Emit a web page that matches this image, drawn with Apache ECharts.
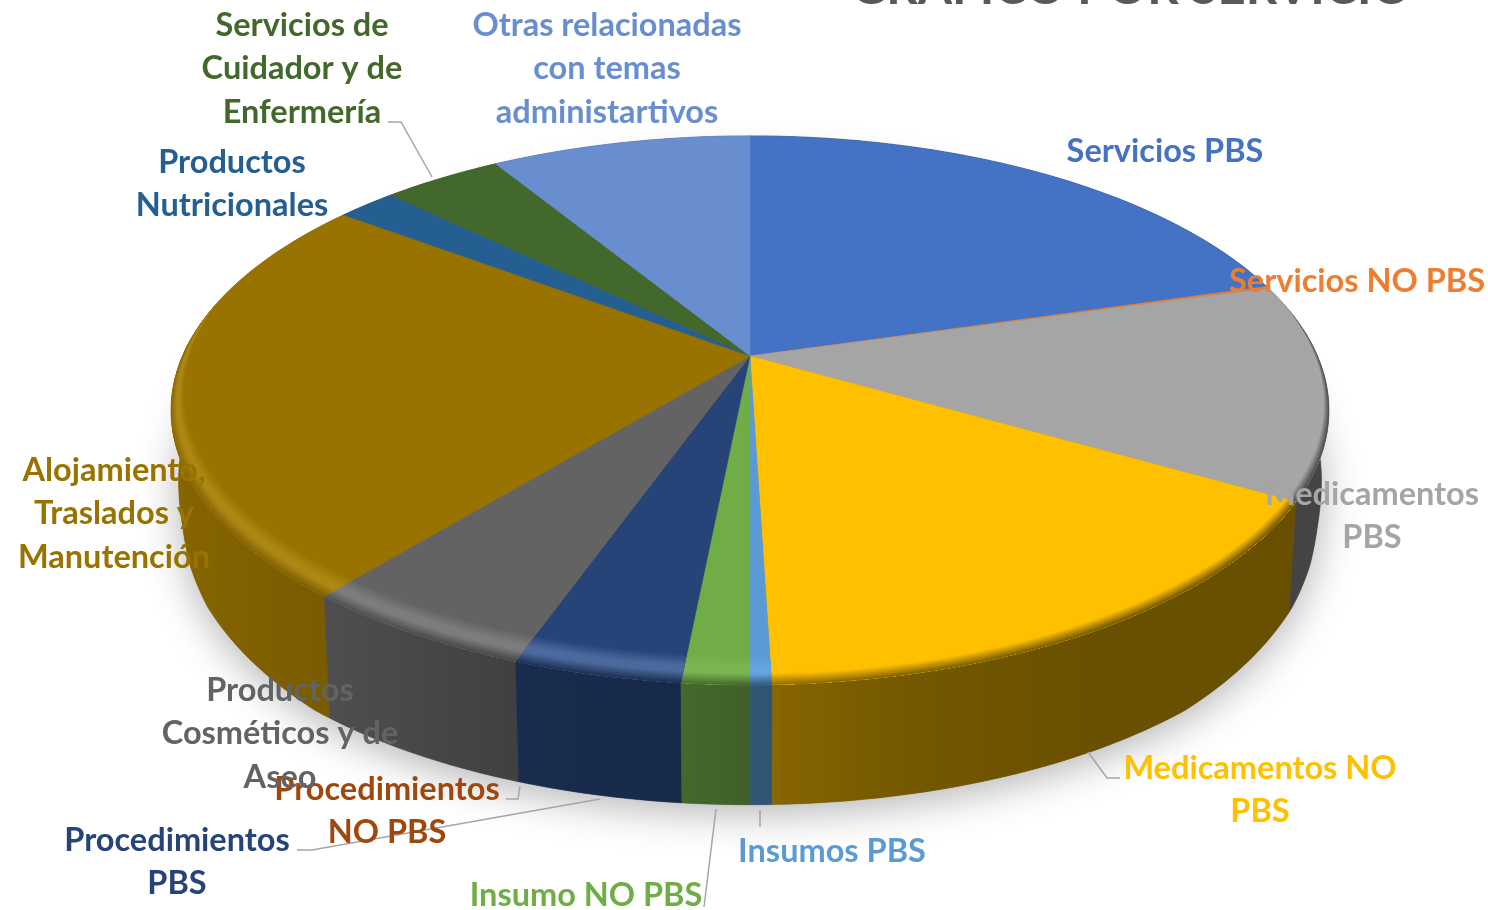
<!DOCTYPE html>
<html>
<head>
<meta charset="utf-8">
<title>Gráfico por servicio</title>
<script src="https://cdn.jsdelivr.net/npm/echarts@6/dist/echarts.min.js"></script>
<style>
  html, body { margin: 0; padding: 0; background: #fff; overflow: hidden; }
  #chart { width: 1488px; height: 910px; }
</style>
</head>
<body>
<div id="chart"></div>
<script>
const categories = [
  'Servicios PBS', 'Servicios NO PBS', 'Medicamentos PBS', 'Medicamentos NO PBS',
  'Insumos PBS', 'Insumo NO PBS', 'Procedimientos PBS', 'Procedimientos NO PBS',
  'Productos Cosméticos y de Aseo', 'Alojamiento, Traslados y Manutención',
  'Productos Nutricionales', 'Servicios de Cuidador y de Enfermería',
  'Otras relacionadas con temas administartivos'
]
const values = [20.5, 0.12, 12.68, 16.2, 0.5, 1.55, 3.9, 0.005, 5.5, 24.25, 2, 4, 8.78]
const colors = [
  '#4472C4', '#ED7D31', '#A5A5A5', '#FFC000', '#5B9BD5', '#70AD47', '#264478',
  '#9E480E', '#636363', '#997300', '#255E91', '#43682B', '#698ED0'
]
const labelTexts = [
  'Servicios PBS', 'Servicios NO PBS', 'Medicamentos\nPBS', 'Medicamentos NO\nPBS',
  'Insumos PBS', 'Insumo NO PBS', 'Procedimientos\nPBS', 'Procedimientos\nNO PBS',
  'Productos\nCosméticos y de\nAseo', 'Alojamiento,\nTraslados y\nManutención',
  'Productos\nNutricionales', 'Servicios de\nCuidador y de\nEnfermería',
  'Otras relacionadas\ncon temas\nadministartivos'
]
const labelX = [1165, 1357, 1372, 1260, 832, 586, 177, 387, 280, 114, 232, 302, 607]
const labelY = [152, 282, 516, 790, 852, 896, 862, 811, 734, 514, 184, 69, 69]
const leaderLines = [
  [[388, 122], [401, 122], [432, 177]],
  [[1088, 752], [1107, 778], [1120, 778]],
  [[506, 799], [518, 799], [520, 786]],
  [[297, 850], [312, 850], [600, 799]],
  [[716, 809], [704, 907]],
  [[760, 810], [760, 827]]
]

// perspective of the disc, fitted to the picture
const CX = 750, CY = 356, A = 567.5, B = 263.7, K = 0.198
const wallDrop = [[-1, 20], [0.2, 70], [0.3, 82], [0.38, 100], [0.48, 110], [0.75, 122], [1, 120]]
const total = values.reduce((a, b) => a + b, 0)

let acc = 0
const sliceData = values.map((v, i) => {
  const start = acc / total * 360
  acc += v
  return { name: categories[i], value: [start, acc / total * 360, i] }
})

function dropAt(v) {
  for (let i = 1; i < wallDrop.length; i++) {
    if (v <= wallDrop[i][0]) {
      const [v0, d0] = wallDrop[i - 1], [v1, d1] = wallDrop[i]
      return d0 + (d1 - d0) * (v - v0) / (v1 - v0)
    }
  }
  return wallDrop[wallDrop.length - 1][1]
}

function project(deg, r, lower) {
  const th = deg * Math.PI / 180
  const u = r * Math.sin(th)
  const v = -r * Math.cos(th)
  const w = 1 - K * v
  const x = CX + A * u / w
  const y = CY + B * v / w
  if (!lower) return [x, y]
  return [CX + 0.987 * (x - CX), y + dropAt(v)]
}

function arc(a0, a1, r, lower) {
  const pts = []
  const n = Math.max(2, Math.ceil(Math.abs(a1 - a0)))
  for (let i = 0; i <= n; i++) {
    const deg = a0 + (a1 - a0) * i / n
    pts.push(project(deg, typeof r === 'function' ? r(deg) : r, lower))
  }
  return pts
}

function rgb(hex) {
  return [1, 3, 5].map(i => parseInt(hex.slice(i, i + 2), 16))
}
function css(c) {
  return `rgb(${c.map(n => Math.round(Math.min(255, n))).join(',')})`
}
function mix(a, b, t) {
  return a.map((n, i) => n + (b[i] - n) * t)
}

// side wall darkening, left to right across the pie
const wallStops = [[0, 0.88], [0.14, 0.79], [0.3, 0.65], [0.45, 0.6], [0.51, 0.55], [0.53, 0.52], [0.63, 0.46], [0.8, 0.41], [1, 0.41]]

function lightOf(c) {
  const lum = 0.3 * c[0] + 0.59 * c[1] + 0.11 * c[2]
  const add = Math.max(0, 60 * (1 - lum / 170))
  return c.map(n => n + add)
}

function bandWidth(deg) {
  const v = -Math.cos(deg * Math.PI / 180)
  return 0.075 * Math.max(0, Math.min(1, (v + 0.2) / 1.2))
}

const silhouette = arc(0, 360, 1, true)

const option = {
  animation: false,
  backgroundColor: '#fff',
  graphic: [
    {
      type: 'text',
      z: 20,
      style: {
        text: 'GRÁFICO POR SERVICIO',
        x: 1131,
        y: 13,
        textAlign: 'center',
        textVerticalAlign: 'bottom',
        font: 'bold 49px Lato',
        fill: '#595959'
      }
    },
    ...leaderLines.map(points => ({
      type: 'polyline',
      z: 20,
      shape: { points },
      style: { stroke: '#A6A6A6', lineWidth: 1.5, fill: null }
    })),
    ...labelTexts.map((text, i) => ({
      type: 'text',
      z: 21,
      style: {
        text,
        x: labelX[i],
        y: labelY[i],
        textAlign: 'center',
        textVerticalAlign: 'middle',
        font: 'bold 32.5px Lato',
        lineHeight: 43.4,
        fill: colors[i]
      }
    }))
  ],
  series: [
    {
      // soft shadow under the disc
      type: 'custom',
      coordinateSystem: 'none',
      silent: true,
      z: 1,
      data: [[0]],
      renderItem: () => ({
        type: 'polygon',
        shape: { points: silhouette },
        style: {
          fill: '#777',
          shadowBlur: 40,
          shadowOffsetY: 8,
          shadowColor: 'rgba(0,0,0,0.3)'
        }
      })
    },
    {
      // side walls, back ones first
      type: 'custom',
      coordinateSystem: 'none',
      silent: true,
      z: 2,
      data: sliceData.slice().sort((a, b) =>
        Math.abs((a.value[0] + a.value[1]) / 2 - 180) < Math.abs((b.value[0] + b.value[1]) / 2 - 180) ? 1 : -1),
      renderItem: (params, api) => {
        const a0 = api.value(0), a1 = api.value(1), c = rgb(colors[api.value(2)])
        if (a1 - a0 < 0.1) return null
        const points = arc(a0, a1, 1, false).concat(arc(a1, a0, 1, true))
        const stops = wallStops.map(([offset, f]) => ({ offset, color: css(c.map(n => n * f)) }))
        const fill = new echarts.graphic.LinearGradient(170, 0, 1330, 0, stops, true)
        return { type: 'polygon', shape: { points }, style: { fill, stroke: fill, lineWidth: 0.5 } }
      }
    },
    {
      // top face
      type: 'custom',
      coordinateSystem: 'none',
      silent: true,
      z: 3,
      data: sliceData,
      renderItem: (params, api) => {
        const a0 = api.value(0), a1 = api.value(1), c = colors[api.value(2)]
        if (a1 - a0 < 0.1) return null
        const points = [[CX, CY]].concat(arc(a0, a1, 1, false))
        return { type: 'polygon', shape: { points }, style: { fill: c, stroke: c, lineWidth: 0.4 } }
      }
    },
    {
      // rounded rim, painted from inside to outside
      type: 'custom',
      coordinateSystem: 'none',
      silent: true,
      z: 4,
      data: sliceData,
      renderItem: (params, api) => {
        const a0 = api.value(0), a1 = api.value(1), c = rgb(colors[api.value(2)])
        if (a1 - a0 < 0.1) return null
        const light = lightOf(c)
        const children = []
        const layers = 18
        for (let i = layers; i >= 1; i--) {
          const t = i / layers
          const inner = arc(a1, a0, deg => 1 - bandWidth(deg) * t, false)
          const points = arc(a0, a1, 1, false).concat(inner)
          const stops = wallStops.map(([offset, f]) => {
            const wall = c.map(n => n * f)
            const col = t > 0.6 ? mix(light, c, (t - 0.6) / 0.4) : t > 0.4 ? light : mix(wall, light, t / 0.4)
            return { offset, color: css(col) }
          })
          children.push({
            type: 'polygon',
            shape: { points },
            style: { fill: new echarts.graphic.LinearGradient(170, 0, 1330, 0, stops, true) }
          })
        }
        return { type: 'group', children }
      }
    }
  ]
}

const chart = echarts.init(document.getElementById('chart'))
chart.setOption(option)
window.addEventListener('resize', () => chart.resize())
</script>
</body>
</html>
